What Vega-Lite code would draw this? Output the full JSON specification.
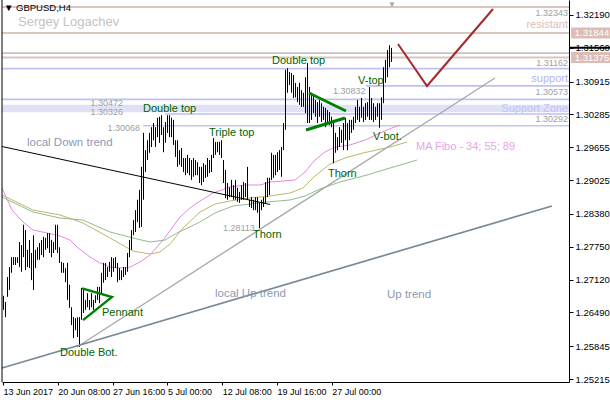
{
  "$schema": "https://vega.github.io/schema/vega-lite/v6.json",
  "width": 567,
  "height": 382,
  "autosize": {"type": "none"},
  "padding": {"left": 2, "top": 0, "right": 41, "bottom": 18},
  "background": "white",
  "config": {"view": {"stroke": null}, "font": "Liberation Sans"},
  "resolve": {"scale": {"color": "independent", "strokeWidth": "independent"}},
  "datasets": {
    "bars": [
      {"bar":0,"price":1.2681,"low":1.2654},{"bar":1,"price":1.2669,"low":1.2640},{"bar":2,"price":1.2717,"low":1.2679},{"bar":3,"price":1.2736,"low":1.2692},
      {"bar":4,"price":1.2755,"low":1.2725},{"bar":5,"price":1.2755,"low":1.2740},{"bar":6,"price":1.2755,"low":1.2740},{"bar":7,"price":1.2755,"low":1.2744},
      {"bar":8,"price":1.2784,"low":1.2736},{"bar":9,"price":1.2778,"low":1.2727},{"bar":10,"price":1.2817,"low":1.2755},{"bar":11,"price":1.2807,"low":1.2730},
      {"bar":12,"price":1.2769,"low":1.2736},{"bar":13,"price":1.2788,"low":1.2734},{"bar":14,"price":1.2763,"low":1.2711},{"bar":15,"price":1.2797,"low":1.2692},
      {"bar":16,"price":1.2769,"low":1.2734},{"bar":17,"price":1.2774,"low":1.2750},{"bar":18,"price":1.2782,"low":1.2750},{"bar":19,"price":1.2788,"low":1.2759},
      {"bar":20,"price":1.2794,"low":1.2755},{"bar":21,"price":1.2792,"low":1.2769},{"bar":22,"price":1.2801,"low":1.2772},{"bar":23,"price":1.2801,"low":1.2763},
      {"bar":24,"price":1.2788,"low":1.2755},{"bar":25,"price":1.2784,"low":1.2763},{"bar":26,"price":1.2817,"low":1.2769},{"bar":27,"price":1.2817,"low":1.2763},
      {"bar":28,"price":1.2774,"low":1.2744},{"bar":29,"price":1.2746,"low":1.2725},{"bar":30,"price":1.2744,"low":1.2725},{"bar":31,"price":1.2734,"low":1.2707},
      {"bar":32,"price":1.2744,"low":1.2673},{"bar":33,"price":1.2702,"low":1.2658},{"bar":34,"price":1.2659,"low":1.2625},{"bar":35,"price":1.2640,"low":1.2600},
      {"bar":36,"price":1.2638,"low":1.2615},{"bar":37,"price":1.2640,"low":1.2602},{"bar":38,"price":1.2640,"low":1.2583},{"bar":39,"price":1.2696,"low":1.2635},
      {"bar":40,"price":1.2692,"low":1.2648},{"bar":41,"price":1.2673,"low":1.2654},{"bar":42,"price":1.2686,"low":1.2659},{"bar":43,"price":1.2673,"low":1.2654},
      {"bar":44,"price":1.2686,"low":1.2659},{"bar":45,"price":1.2673,"low":1.2654},{"bar":46,"price":1.2682,"low":1.2667},{"bar":47,"price":1.2698,"low":1.2673},
      {"bar":48,"price":1.2698,"low":1.2667},{"bar":49,"price":1.2725,"low":1.2686},{"bar":50,"price":1.2744,"low":1.2706},{"bar":51,"price":1.2744,"low":1.2711},
      {"bar":52,"price":1.2736,"low":1.2717},{"bar":53,"price":1.2746,"low":1.2727},{"bar":54,"price":1.2755,"low":1.2717},{"bar":55,"price":1.2753,"low":1.2727},
      {"bar":56,"price":1.2755,"low":1.2734},{"bar":57,"price":1.2744,"low":1.2707},{"bar":58,"price":1.2734,"low":1.2711},{"bar":59,"price":1.2730,"low":1.2711},
      {"bar":60,"price":1.2736,"low":1.2717},{"bar":61,"price":1.2736,"low":1.2721},{"bar":62,"price":1.2763,"low":1.2727},{"bar":63,"price":1.2788,"low":1.2755},
      {"bar":64,"price":1.2807,"low":1.2769},{"bar":65,"price":1.2826,"low":1.2797},{"bar":66,"price":1.2845,"low":1.2803},{"bar":67,"price":1.2865,"low":1.2822},
      {"bar":68,"price":1.2884,"low":1.2811},{"bar":69,"price":1.2928,"low":1.2813},{"bar":70,"price":1.2993,"low":1.2865},{"bar":71,"price":1.2960,"low":1.2918},
      {"bar":72,"price":1.2979,"low":1.2941},{"bar":73,"price":1.2993,"low":1.2955},{"bar":74,"price":1.3004,"low":1.2966},{"bar":75,"price":1.3012,"low":1.2979},
      {"bar":76,"price":1.3004,"low":1.2966},{"bar":77,"price":1.3022,"low":1.2985},{"bar":78,"price":1.3024,"low":1.2974},{"bar":79,"price":1.3027,"low":1.2989},
      {"bar":80,"price":1.3004,"low":1.2956},{"bar":81,"price":1.3014,"low":1.2974},{"bar":82,"price":1.3027,"low":1.2993},{"bar":83,"price":1.3027,"low":1.2985},
      {"bar":84,"price":1.3022,"low":1.2985},{"bar":85,"price":1.3018,"low":1.2970},{"bar":86,"price":1.2979,"low":1.2947},{"bar":87,"price":1.2979,"low":1.2928},
      {"bar":88,"price":1.2960,"low":1.2932},{"bar":89,"price":1.2964,"low":1.2928},{"bar":90,"price":1.2945,"low":1.2918},{"bar":91,"price":1.2945,"low":1.2912},
      {"bar":92,"price":1.2951,"low":1.2916},{"bar":93,"price":1.2945,"low":1.2912},{"bar":94,"price":1.2941,"low":1.2903},{"bar":95,"price":1.2945,"low":1.2909},
      {"bar":96,"price":1.2941,"low":1.2912},{"bar":97,"price":1.2937,"low":1.2912},{"bar":98,"price":1.2928,"low":1.2897},{"bar":99,"price":1.2928,"low":1.2893},
      {"bar":100,"price":1.2935,"low":1.2899},{"bar":101,"price":1.2932,"low":1.2907},{"bar":102,"price":1.2945,"low":1.2909},{"bar":103,"price":1.2941,"low":1.2916},
      {"bar":104,"price":1.2951,"low":1.2918},{"bar":105,"price":1.2983,"low":1.2945},{"bar":106,"price":1.2976,"low":1.2951},{"bar":107,"price":1.2976,"low":1.2956},
      {"bar":108,"price":1.2976,"low":1.2951},{"bar":109,"price":1.2979,"low":1.2945},{"bar":110,"price":1.2941,"low":1.2897},{"bar":111,"price":1.2922,"low":1.2868},
      {"bar":112,"price":1.2897,"low":1.2865},{"bar":113,"price":1.2889,"low":1.2870},{"bar":114,"price":1.2903,"low":1.2870},{"bar":115,"price":1.2893,"low":1.2865},
      {"bar":116,"price":1.2903,"low":1.2865},{"bar":117,"price":1.2888,"low":1.2861},{"bar":118,"price":1.2880,"low":1.2859},{"bar":119,"price":1.2893,"low":1.2865},
      {"bar":120,"price":1.2899,"low":1.2865},{"bar":121,"price":1.2897,"low":1.2870},{"bar":122,"price":1.2928,"low":1.2865},{"bar":123,"price":1.2865,"low":1.2851},
      {"bar":124,"price":1.2870,"low":1.2849},{"bar":125,"price":1.2865,"low":1.2845},{"bar":126,"price":1.2870,"low":1.2845},{"bar":127,"price":1.2870,"low":1.2840},
      {"bar":128,"price":1.2859,"low":1.2811},{"bar":129,"price":1.2865,"low":1.2845},{"bar":130,"price":1.2870,"low":1.2851},{"bar":131,"price":1.2899,"low":1.2859},
      {"bar":132,"price":1.2907,"low":1.2870},{"bar":133,"price":1.2907,"low":1.2874},{"bar":134,"price":1.2955,"low":1.2903},{"bar":135,"price":1.2951,"low":1.2907},
      {"bar":136,"price":1.2951,"low":1.2912},{"bar":137,"price":1.2956,"low":1.2918},{"bar":138,"price":1.2960,"low":1.2922},{"bar":139,"price":1.2966,"low":1.2909},
      {"bar":140,"price":1.3012,"low":1.2960},{"bar":141,"price":1.3114,"low":1.2999},{"bar":142,"price":1.3117,"low":1.3070},{"bar":143,"price":1.3110,"low":1.3085},
      {"bar":144,"price":1.3108,"low":1.3070},{"bar":145,"price":1.3104,"low":1.3060},{"bar":146,"price":1.3089,"low":1.3061},{"bar":147,"price":1.3081,"low":1.3052},
      {"bar":148,"price":1.3089,"low":1.3047},{"bar":149,"price":1.3075,"low":1.3043},{"bar":150,"price":1.3070,"low":1.3043},{"bar":151,"price":1.3100,"low":1.3031},
      {"bar":152,"price":1.3127,"low":1.3012},{"bar":153,"price":1.3081,"low":1.3012},{"bar":154,"price":1.3070,"low":1.3018},{"bar":155,"price":1.3066,"low":1.3031},
      {"bar":156,"price":1.3056,"low":1.3024},{"bar":157,"price":1.3052,"low":1.3012},{"bar":158,"price":1.3056,"low":1.3024},{"bar":159,"price":1.3050,"low":1.3014},
      {"bar":160,"price":1.3043,"low":1.3018},{"bar":161,"price":1.3041,"low":1.3004},{"bar":162,"price":1.3037,"low":1.3012},{"bar":163,"price":1.3033,"low":1.3008},
      {"bar":164,"price":1.3024,"low":1.3004},{"bar":165,"price":1.3018,"low":1.2935},{"bar":166,"price":1.2993,"low":1.2955},{"bar":167,"price":1.2985,"low":1.2960},
      {"bar":168,"price":1.3004,"low":1.2966},{"bar":169,"price":1.2999,"low":1.2974},{"bar":170,"price":1.3012,"low":1.2960},{"bar":171,"price":1.3022,"low":1.2979},
      {"bar":172,"price":1.3012,"low":1.2960},{"bar":173,"price":1.3018,"low":1.2979},{"bar":174,"price":1.3018,"low":1.2993},{"bar":175,"price":1.3024,"low":1.2999},
      {"bar":176,"price":1.3043,"low":1.3012},{"bar":177,"price":1.3056,"low":1.3018},{"bar":178,"price":1.3043,"low":1.3014},{"bar":179,"price":1.3060,"low":1.3022},
      {"bar":180,"price":1.3043,"low":1.3014},{"bar":181,"price":1.3050,"low":1.3018},{"bar":182,"price":1.3052,"low":1.3024},{"bar":183,"price":1.3081,"low":1.3018},
      {"bar":184,"price":1.3060,"low":1.3018},{"bar":185,"price":1.3050,"low":1.3014},{"bar":186,"price":1.3043,"low":1.3018},{"bar":187,"price":1.3050,"low":1.3024},
      {"bar":188,"price":1.3050,"low":1.3003},{"bar":189,"price":1.3061,"low":1.3018},{"bar":190,"price":1.3119,"low":1.3050},{"bar":191,"price":1.3133,"low":1.3089},
      {"bar":192,"price":1.3152,"low":1.3100},{"bar":193,"price":1.3161,"low":1.3119},{"bar":194,"price":1.3156,"low":1.3129}
    ],
    "ma": [
      {"series":"34","bar":-0.5,"price":1.28875},{"series":"34","bar":4.5,"price":1.28453},{"series":"34","bar":10,"price":1.28223},{"series":"34","bar":15,"price":1.2807},
      {"series":"34","bar":22,"price":1.28013},{"series":"34","bar":28.5,"price":1.27955},{"series":"34","bar":33.5,"price":1.27878},{"series":"34","bar":37,"price":1.27744},
      {"series":"34","bar":43.5,"price":1.27553},{"series":"34","bar":48.5,"price":1.27438},{"series":"34","bar":53.5,"price":1.27361},{"series":"34","bar":58.5,"price":1.27342},
      {"series":"34","bar":63.5,"price":1.27361},{"series":"34","bar":68.5,"price":1.27457},{"series":"34","bar":73.5,"price":1.27591},{"series":"34","bar":80,"price":1.27878},
      {"series":"34","bar":84.5,"price":1.28109},{"series":"34","bar":88.5,"price":1.28319},{"series":"34","bar":93.5,"price":1.28492},{"series":"34","bar":97,"price":1.28588},
      {"series":"34","bar":105,"price":1.28779},{"series":"34","bar":113.5,"price":1.28894},{"series":"34","bar":121,"price":1.28932},{"series":"34","bar":128.5,"price":1.28932},
      {"series":"34","bar":133.5,"price":1.2899},{"series":"34","bar":140,"price":1.29009},{"series":"34","bar":146,"price":1.29028},{"series":"34","bar":151,"price":1.29181},
      {"series":"34","bar":156,"price":1.29411},{"series":"34","bar":161,"price":1.29565},{"series":"34","bar":166,"price":1.2966},{"series":"34","bar":173.5,"price":1.29699},
      {"series":"34","bar":181,"price":1.29794},{"series":"34","bar":188.5,"price":1.29929},{"series":"34","bar":194.5,"price":1.30025},{"series":"34","bar":198.5,"price":1.30082},
      {"series":"55","bar":-0.5,"price":1.28741},{"series":"55","bar":15,"price":1.28453},{"series":"55","bar":28.5,"price":1.28358},{"series":"55","bar":40,"price":1.28204},
      {"series":"55","bar":53.5,"price":1.27917},{"series":"55","bar":65,"price":1.27668},{"series":"55","bar":73.5,"price":1.2761},{"series":"55","bar":78.5,"price":1.27649},
      {"series":"55","bar":83.5,"price":1.27802},{"series":"55","bar":90,"price":1.28109},{"series":"55","bar":98.5,"price":1.28415},{"series":"55","bar":106,"price":1.28568},
      {"series":"55","bar":113.5,"price":1.28626},{"series":"55","bar":123.5,"price":1.28683},{"series":"55","bar":133.5,"price":1.28722},{"series":"55","bar":143.5,"price":1.28779},
      {"series":"55","bar":150,"price":1.28875},{"series":"55","bar":156,"price":1.29105},{"series":"55","bar":163.5,"price":1.29335},{"series":"55","bar":171,"price":1.2945},
      {"series":"55","bar":180,"price":1.29546},{"series":"55","bar":193.5,"price":1.2966},{"series":"55","bar":202,"price":1.29756},
      {"series":"89","bar":-0.5,"price":1.28702},{"series":"89","bar":15,"price":1.28415},{"series":"89","bar":28.5,"price":1.283},{"series":"89","bar":40,"price":1.2826},
      {"series":"89","bar":53.5,"price":1.28032},{"series":"89","bar":65,"price":1.27917},{"series":"89","bar":73.5,"price":1.2784},{"series":"89","bar":81,"price":1.27878},
      {"series":"89","bar":87,"price":1.28013},{"series":"89","bar":98.5,"price":1.28223},{"series":"89","bar":106,"price":1.28396},{"series":"89","bar":115,"price":1.2853},
      {"series":"89","bar":132,"price":1.28607},{"series":"89","bar":143.5,"price":1.28645},{"series":"89","bar":151,"price":1.28722},{"series":"89","bar":158.5,"price":1.28856},
      {"series":"89","bar":168.5,"price":1.2899},{"series":"89","bar":182,"price":1.29124},{"series":"89","bar":193.5,"price":1.29258},{"series":"89","bar":207,"price":1.29411}
    ],
    "lines": [
      {"name":"local down","seq":1,"bar":-0.5,"price":1.2967},{"name":"local down","seq":2,"bar":133.5,"price":1.28559},
      {"name":"local up","seq":1,"bar":37,"price":1.25828},{"name":"local up","seq":2,"bar":246,"price":1.30982},
      {"name":"up","seq":1,"bar":-0.5,"price":1.25426},{"name":"up","seq":2,"bar":274.5,"price":1.2853},
      {"name":"forecast","seq":1,"bar":197.5,"price":1.31634},{"name":"forecast","seq":2,"bar":212,"price":1.30829},{"name":"forecast","seq":3,"bar":245,"price":1.32305},
      {"name":"pennant","seq":1,"bar":39.5,"price":1.2695},{"name":"pennant","seq":2,"bar":54.5,"price":1.26786},{"name":"pennant","seq":3,"bar":40,"price":1.26345},
      {"name":"tri upper","seq":1,"bar":153,"price":1.30695},{"name":"tri upper","seq":2,"bar":171.5,"price":1.3035},
      {"name":"tri lower","seq":1,"bar":151.5,"price":1.29986},{"name":"tri lower","seq":2,"bar":171,"price":1.30216}
    ],
    "levels": [
      {"price":1.32343,"bar":-0.5,"to":283,"kind":"resist"},
      {"price":1.31844,"bar":-0.5,"to":283,"kind":"resist"},
      {"price":1.3146,"bar":-0.5,"to":283,"kind":"ask"},
      {"price":1.31375,"bar":-0.5,"to":283,"kind":"resist"},
      {"price":1.31162,"bar":-0.5,"to":283,"kind":"support"},
      {"price":1.30832,"bar":181.5,"to":283,"kind":"support"},
      {"price":1.30573,"bar":-0.5,"to":283,"kind":"support"},
      {"price":1.30292,"bar":81,"to":283,"kind":"support"},
      {"price":1.30068,"bar":70,"to":283,"kind":"thick"}
    ],
    "notes": [
      {"text":"▼ GBPUSD,H4","bar":0.5,"price":1.32324,"kind":"head"},
      {"text":"Sergey Logachev","bar":7.5,"price":1.32056,"kind":"author"},
      {"text":"local Down trend","bar":12,"price":1.29737,"kind":"trend"},
      {"text":"local  Up trend","bar":106,"price":1.26843,"kind":"trend"},
      {"text":"Up trend","bar":192,"price":1.26824,"kind":"trend"},
      {"text":"MA Fibo - 34; 55; 89","bar":206.5,"price":1.2966,"kind":"ma"},
      {"text":"1.30832","bar":165,"price":1.30733,"kind":"num"},
      {"text":"1.28113","bar":110,"price":1.28108,"kind":"num"},
      {"text":"Double top","bar":70,"price":1.30389,"kind":"pattern"},
      {"text":"Triple top","bar":103,"price":1.29929,"kind":"pattern"},
      {"text":"Double top","bar":134.5,"price":1.31308,"kind":"pattern"},
      {"text":"V-top","bar":177.5,"price":1.30925,"kind":"pattern"},
      {"text":"V-bot.","bar":185,"price":1.29852,"kind":"pattern"},
      {"text":"Thorn","bar":162.5,"price":1.29142,"kind":"pattern"},
      {"text":"Thorn","bar":125,"price":1.27974,"kind":"pattern"},
      {"text":"Pennant","bar":49.5,"price":1.2648,"kind":"pattern"},
      {"text":"Double Bot.","bar":28.5,"price":1.25713,"kind":"pattern"}
    ],
    "rnotes": [
      {"text":"1.32343","bar":282.5,"price":1.32228,"kind":"num"},
      {"text":"resistant","bar":282.5,"price":1.31998,"kind":"res"},
      {"text":"1.31162","bar":282.5,"price":1.3127,"kind":"num"},
      {"text":"support","bar":282.5,"price":1.30964,"kind":"sup"},
      {"text":"1.30573","bar":282.5,"price":1.30714,"kind":"num"},
      {"text":"Support Zone","bar":282.5,"price":1.30398,"kind":"zone"},
      {"text":"1.30292","bar":282.5,"price":1.30197,"kind":"num"},
      {"text":"1.30472","bar":60,"price":1.30504,"kind":"num"},
      {"text":"1.30326","bar":60,"price":1.30331,"kind":"num"},
      {"text":"1.30068","bar":68.5,"price":1.30025,"kind":"num"}
    ]
  },
  "encoding": {
    "x": {"field": "bar", "type": "quantitative", "scale": {"domain": [-0.5, 283], "nice": false, "zero": false}, "title": null,
          "axis": {"orient": "bottom", "values": [0, 27.4, 54.8, 82.2, 109.6, 137, 164.4],
                   "labelExpr": "datum.value < 10 ? '13 Jun 2017' : datum.value < 40 ? '20 Jun 08:00' : datum.value < 70 ? '27 Jun 16:00' : datum.value < 95 ? '5 Jul 00:00' : datum.value < 120 ? '12 Jul 08:00' : datum.value < 150 ? '19 Jul 16:00' : '27 Jul 00:00'",
                   "labelAlign": "left", "labelPadding": 2, "tickSize": 3, "labelFontSize": 9, "labelColor": "#000000", "labelFont": "Liberation Sans",
                   "domainColor": "#000000", "tickColor": "#000000", "grid": false, "labelOverlap": false, "labelBound": false, "labelFlush": false}},
    "y": {"field": "price", "type": "quantitative", "scale": {"domain": [1.25158, 1.32477], "nice": false, "zero": false}, "title": null,
          "axis": {"orient": "right", "values": [1.25215, 1.25845, 1.2649, 1.2712, 1.2775, 1.2838, 1.29025, 1.29655, 1.30285, 1.30915, 1.3156, 1.3219],
                   "format": ".5f", "tickSize": 4, "labelPadding": 2, "labelFontSize": 9.5, "labelColor": "#000000", "labelFont": "Liberation Sans",
                   "domainColor": "#000000", "tickColor": "#000000", "grid": false, "labelOverlap": false, "labelBound": false, "labelFlush": false}}
  },
  "layer": [
    {
      "data": {"values": [{"price":1.30472,"bottom":1.30326,"bar":-0.5,"to":283}]},
      "mark": {"type": "rect", "color": "#dfe1f7"},
      "encoding": {"x2": {"field": "to"}, "y2": {"field": "bottom"}}
    },
    {
      "data": {"name": "levels"},
      "mark": {"type": "rule"},
      "encoding": {
        "x2": {"field": "to"},
        "color": {"field": "kind", "type": "nominal", "legend": null, "scale": {"domain": ["resist", "ask", "support", "thick"], "range": ["#dcc4bf", "#c4c4c4", "#bdc1f3", "#c3c6f3"]}},
        "strokeWidth": {"field": "kind", "type": "nominal", "legend": null, "scale": {"domain": ["resist", "ask", "support", "thick"], "range": [2, 1.5, 2, 5]}}
      }
    },
    {
      "data": {"name": "ma"},
      "mark": {"type": "line", "strokeWidth": 1},
      "encoding": {
        "color": {"field": "series", "type": "nominal", "legend": null, "scale": {"domain": ["34", "55", "89"], "range": ["#e28ae2", "#bdb76b", "#8fbc8f"]}},
        "detail": {"field": "series"}
      }
    },
    {
      "data": {"name": "bars"},
      "mark": {"type": "rule", "color": "#000000", "strokeWidth": 1, "xOffset": 0.5},
      "encoding": {"y2": {"field": "low"}}
    },
    {
      "data": {"name": "lines"},
      "mark": {"type": "line"},
      "encoding": {
        "order": {"field": "seq"},
        "detail": {"field": "name"},
        "color": {"field": "name", "type": "nominal", "legend": null, "scale": {"domain": ["local down", "local up", "up", "forecast", "pennant", "tri upper", "tri lower"], "range": ["#000000", "#a9a9a9", "#778899", "#a52a2a", "#008000", "#008000", "#008000"]}},
        "strokeWidth": {"field": "name", "type": "nominal", "legend": null, "scale": {"domain": ["local down", "local up", "up", "forecast", "pennant", "tri upper", "tri lower"], "range": [1, 3, 3, 2.5, 2.5, 2.5, 2.5]}}
      }
    },
    {
      "data": {"name": "notes"},
      "transform": [{"filter": {"field": "kind", "oneOf": ["pattern", "ma"]}}],
      "mark": {"type": "text", "align": "left", "baseline": "middle", "font": "Liberation Sans", "fontSize": 11},
      "encoding": {
        "text": {"field": "text"},
        "color": {"field": "kind", "type": "nominal", "legend": null, "scale": {"domain": ["pattern", "ma"], "range": ["#006400", "#e6a6e6"]}}
      }
    },
    {
      "data": {"name": "notes"},
      "transform": [{"filter": {"field": "kind", "equal": "trend"}}],
      "mark": {"type": "text", "align": "left", "baseline": "middle", "font": "Liberation Sans", "fontSize": 11.5, "color": "#8e98b6"},
      "encoding": {"text": {"field": "text"}}
    },
    {
      "data": {"name": "notes"},
      "transform": [{"filter": {"field": "kind", "equal": "head"}}],
      "mark": {"type": "text", "align": "left", "baseline": "middle", "font": "Liberation Sans", "fontSize": 9.5, "color": "#000000"},
      "encoding": {"text": {"field": "text"}}
    },
    {
      "data": {"name": "notes"},
      "transform": [{"filter": {"field": "kind", "equal": "author"}}],
      "mark": {"type": "text", "align": "left", "baseline": "middle", "font": "Liberation Sans", "fontSize": 13, "color": "#c3c3c3"},
      "encoding": {"text": {"field": "text"}}
    },
    {
      "data": {"name": "notes"},
      "transform": [{"filter": {"field": "kind", "equal": "num"}}],
      "mark": {"type": "text", "align": "left", "baseline": "middle", "font": "Liberation Sans", "fontSize": 9, "color": "#a0a0a0"},
      "encoding": {"text": {"field": "text"}}
    },
    {
      "data": {"name": "rnotes"},
      "transform": [{"filter": {"field": "kind", "equal": "num"}}],
      "mark": {"type": "text", "align": "right", "baseline": "middle", "font": "Liberation Sans", "fontSize": 9, "color": "#a0a0a0"},
      "encoding": {"text": {"field": "text"}}
    },
    {
      "data": {"name": "rnotes"},
      "transform": [{"filter": {"field": "kind", "oneOf": ["res", "sup", "zone"]}}],
      "mark": {"type": "text", "align": "right", "baseline": "middle", "font": "Liberation Sans", "fontSize": 11},
      "encoding": {
        "text": {"field": "text"},
        "color": {"field": "kind", "type": "nominal", "legend": null, "scale": {"domain": ["res", "sup", "zone"], "range": ["#dcbcb4", "#b2b6ef", "#c0c4f4"]}}
      }
    },
    {
      "data": {"values": [{"bar": 194.5, "price": 1.3238, "text": "▼"}]},
      "mark": {"type": "text", "align": "center", "baseline": "middle", "fontSize": 8, "color": "#a0a0a0"},
      "encoding": {"text": {"field": "text"}}
    },
    {
      "data": {"values": [{"bar": -0.5, "price": 1.32477, "bottom": 1.25158}]},
      "mark": {"type": "rule", "color": "#000000", "strokeWidth": 1},
      "encoding": {"y2": {"field": "bottom"}}
    },
    {
      "data": {"values": [{"price": 1.3156, "bar": 283, "to": 303.5}]},
      "mark": {"type": "rule", "color": "#000000", "strokeWidth": 2},
      "encoding": {"x2": {"field": "to"}}
    },
    {
      "data": {"values": [{"price": 1.31844, "bar": 293.8}, {"price": 1.31375, "bar": 293.8}]},
      "mark": {"type": "tick", "orient": "horizontal", "color": "#dcbdb6", "size": 39, "thickness": 11, "opacity": 1}
    },
    {
      "data": {"values": [{"price": 1.31844, "bar": 294.5}, {"price": 1.31375, "bar": 294.5}]},
      "mark": {"type": "text", "align": "center", "baseline": "middle", "fontSize": 9.5, "color": "#ffffff", "font": "Liberation Sans"},
      "encoding": {"text": {"field": "price", "type": "quantitative", "format": ".5f"}}
    }
  ]
}
